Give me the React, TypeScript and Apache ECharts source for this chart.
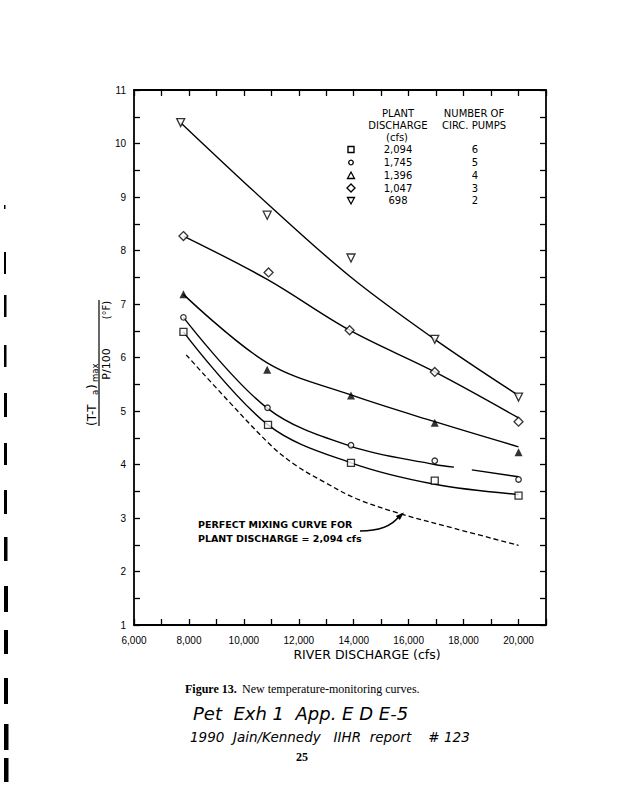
import React, { useEffect, useRef } from "react";
import * as echarts from "echarts";

// ---- data ----
// scatter points: [river discharge (cfs), (T-Ta)max / (P/100) (°F)]
const pumps6Points = [[7800, 6.48], [10880, 4.74], [13900, 4.03], [16950, 3.7], [20000, 3.42]];
const pumps5Points = [[7800, 6.75], [10860, 5.06], [13900, 4.36], [16950, 4.07], [20000, 3.72]];
const pumps4Points = [[7800, 7.18], [10850, 5.77], [13900, 5.29], [16950, 4.78], [20000, 4.23]];
const pumps3Points = [[7800, 8.27], [10900, 7.59], [13850, 6.51], [16950, 5.73], [20000, 4.8]];
const pumps2Points = [[7700, 10.39], [10850, 8.66], [13900, 7.86], [16950, 6.34], [20000, 5.26]];

// fitted curves
const fit6 = [[7800, 6.48], [10880, 4.74], [13900, 4.03], [16950, 3.63], [20000, 3.44]];
const fit5a = [[7800, 6.75], [10860, 5.05], [13900, 4.34], [16950, 4.0], [17650, 3.95]];
const fit5b = [[18300, 3.9], [20000, 3.77]];
const fit4 = [[7800, 7.18], [10850, 5.9], [13900, 5.3], [16950, 4.8], [20000, 4.33]];
const fit3 = [[7800, 8.27], [10850, 7.46], [13850, 6.51], [16950, 5.73], [20000, 4.87]];
const fit2 = [[7700, 10.39], [10850, 8.88], [13900, 7.5], [16950, 6.34], [20000, 5.29]];

// perfect mixing curve for plant discharge = 2,094 cfs
const mixingCurve = [
  [7900, 6.05], [9430, 5.19], [11000, 4.35], [11900, 3.98], [12900, 3.68],
  [14100, 3.36], [15700, 3.08], [17700, 2.8], [20000, 2.49],
];

const legendDischarge = ["2,094", "1,745", "1,396", "1,047", "698"];
const legendPumps = ["6", "5", "4", "3", "2"];

const X_MIN = 6000, X_MAX = 21000, X_STEP = 1000;
const Y_MIN = 1, Y_MAX = 11, Y_STEP = 0.5;

const LETTER = "DejaVu Sans";

export default function App() {
  const ref = useRef<HTMLDivElement>(null);
  useEffect(() => {
    if (!ref.current) return;
    const chart = echarts.init(ref.current, null, { renderer: "svg" });

    const axisLine = { show: true, onZero: false, lineStyle: { color: "#000", width: 1.8 } };
    const axisTick = { show: true, inside: true, length: 6, lineStyle: { color: "#000", width: 1.3 } };

    const openSym = { color: "#fff", borderColor: "#000", borderWidth: 1.3 };
    const lineStyle = { color: "#000", width: 1.4 };

    const fitSeries = (data: number[][]) => ({
      type: "line",
      data,
      smooth: 0.35,
      showSymbol: false,
      symbol: "none",
      lineStyle,
      z: 2,
      silent: true,
    });
    const pointSeries = (data: number[][], symbol: string, size: number, style: any, rotate = 0) => ({
      type: "scatter",
      data,
      symbol,
      symbolSize: size,
      symbolRotate: rotate,
      itemStyle: style,
      z: 5,
    });

    const txt = (x: number, y: number, text: string, font: string, align = "center", valign = "middle") => ({
      type: "text", x, y,
      style: { text, font, fill: "#000", textAlign: align, textVerticalAlign: valign },
    });

    // legend table graphics
    const rowY = [149.5, 162.5, 175.5, 188, 200.5];
    const symX = 351;
    const lf = `10px '${LETTER}'`;
    const legendGraphics: any[] = [
      txt(398, 113, "PLANT", lf),
      txt(398, 125, "DISCHARGE", lf),
      txt(397, 137, "(cfs)", lf),
      txt(474, 113, "NUMBER OF", lf),
      txt(474, 125, "CIRC. PUMPS", lf),
      { type: "rect", shape: { x: symX - 3, y: rowY[0] - 3, width: 6, height: 6 }, style: { fill: "#fff", stroke: "#000", lineWidth: 1.4 } },
      { type: "circle", shape: { cx: symX, cy: rowY[1], r: 2.3 }, style: { fill: "#fff", stroke: "#000", lineWidth: 1.3 } },
      { type: "polygon", shape: { points: [[symX, rowY[2] - 3.5], [symX - 3.5, rowY[2] + 3], [symX + 3.5, rowY[2] + 3]] }, style: { fill: "#fff", stroke: "#000", lineWidth: 1.3 } },
      { type: "polygon", shape: { points: [[symX, rowY[3] - 4], [symX + 4, rowY[3]], [symX, rowY[3] + 4], [symX - 4, rowY[3]]] }, style: { fill: "#fff", stroke: "#000", lineWidth: 1.3 } },
      { type: "polygon", shape: { points: [[symX - 3.5, rowY[4] - 3], [symX + 3.5, rowY[4] - 3], [symX, rowY[4] + 3.5]] }, style: { fill: "#fff", stroke: "#000", lineWidth: 1.3 } },
    ];
    legendDischarge.forEach((t, i) => {
      legendGraphics.push(txt(398, rowY[i], t, lf));
      legendGraphics.push(txt(475, rowY[i], legendPumps[i], lf));
    });

    // scan marks on the left margin
    const marks = [[205, 4, 1.5], [252, 22, 2], [295, 22, 2.5], [345, 22, 2.5], [393, 24, 3], [443, 22, 3], [490, 24, 3], [537, 24, 3.5], [586, 26, 4], [630, 24, 4], [678, 26, 4], [724, 26, 4.5], [758, 24, 4.5]];
    const markGraphics = marks.map(([y, h, w]) => ({ type: "rect", shape: { x: 4, y, width: w, height: h }, style: { fill: "#000" } }));

    const yLabel = {
      type: "group",
      x: 99,
      y: 362,
      rotation: Math.PI / 2,
      children: [
        { type: "line", shape: { x1: -64, y1: 0, x2: 62, y2: 0 }, style: { stroke: "#000", lineWidth: 1.2 } },
        txt(-64, -1.5, "(T-T", `12px '${LETTER}'`, "left", "bottom"),
        txt(-33, 0, "a", `8.5px '${LETTER}'`, "left", "bottom"),
        txt(-27, -1.5, ")", `12px '${LETTER}'`, "left", "bottom"),
        txt(-20, 0, "max", `8.5px '${LETTER}'`, "left", "bottom"),
        txt(-2, 2, "P/100", `11px '${LETTER}'`, "center", "top"),
        txt(52, 2, "(°F)", `10px '${LETTER}'`, "center", "top"),
      ],
    };

    const af = `bold 9.5px '${LETTER}'`;
    const annotation: any[] = [
      txt(198, 524, "PERFECT MIXING CURVE FOR", af, "left"),
      txt(198, 538, "PLANT DISCHARGE = 2,094 cfs", af, "left"),
      { type: "bezierCurve", shape: { x1: 360, y1: 531, x2: 399, y2: 516.5, cpx1: 388, cpy1: 531 }, style: { stroke: "#000", lineWidth: 1.5, fill: null } },
      { type: "polygon", shape: { points: [[404, 512.5], [399.8, 520], [395.8, 516]] }, style: { fill: "#000" } },
    ];

    const pageText: any[] = [
      txt(185, 689, "Figure 13.", "bold 12px 'Liberation Serif'", "left"),
      txt(242, 689, "New temperature-monitoring curves.", "12px 'Liberation Serif'", "left"),
      txt(193, 713, "Pet  Exh 1  App. E D E-5", "italic 18px 'DejaVu Sans'", "left"),
      txt(190, 737, "1990  Jain/Kennedy   IIHR  report    # 123", "italic 13.5px 'DejaVu Sans'", "left"),
      txt(302, 757, "25", "bold 12px 'Liberation Serif'"),
      txt(367, 654, "RIVER DISCHARGE (cfs)", `12.5px '${LETTER}'`),
    ];

    const option: any = {
      animation: false,
      backgroundColor: "#fff",
      grid: { left: 134, right: 72, top: 90, bottom: 175, containLabel: false },
      xAxis: [
        {
          type: "value", min: X_MIN, max: X_MAX, interval: X_STEP,
          axisLine, axisTick, splitLine: { show: false },
          axisLabel: {
            color: "#000", fontFamily: "Liberation Sans", fontSize: 10, margin: 10,
            formatter: (v: number) => (v % 2000 === 0 && v <= 20000 ? v.toLocaleString("en-US") : ""),
          },
        },
        {
          type: "value", position: "top", min: X_MIN, max: X_MAX, interval: X_STEP,
          axisLine, axisTick, splitLine: { show: false }, axisLabel: { show: false },
        },
      ],
      yAxis: [
        {
          type: "value", min: Y_MIN, max: Y_MAX, interval: Y_STEP,
          axisLine, axisTick, splitLine: { show: false },
          axisLabel: {
            color: "#000", fontFamily: "Liberation Sans", fontSize: 10, margin: 8,
            formatter: (v: number) => (Number.isInteger(v) ? String(v) : ""),
          },
        },
        {
          type: "value", position: "right", min: Y_MIN, max: Y_MAX, interval: Y_STEP,
          axisLine, axisTick, splitLine: { show: false }, axisLabel: { show: false },
        },
      ],
      series: [
        fitSeries(fit6), fitSeries(fit5a), fitSeries(fit5b), fitSeries(fit4), fitSeries(fit3), fitSeries(fit2),
        {
          type: "line", data: mixingCurve, smooth: 0.35, showSymbol: false, symbol: "none",
          lineStyle: { color: "#000", width: 1.3, type: [5, 3] }, z: 2, silent: true,
        },
        pointSeries(pumps6Points, "rect", 7, openSym),
        pointSeries(pumps5Points, "circle", 5.5, openSym),
        pointSeries(pumps4Points, "triangle", 8, { color: "#000" }),
        pointSeries(pumps3Points, "diamond", 9, openSym),
        pointSeries(pumps2Points, "triangle", 8, openSym, 180),
      ],
      graphic: [...legendGraphics, ...markGraphics, yLabel, ...annotation, ...pageText],
    };

    chart.setOption(option);
    return () => chart.dispose();
  }, []);

  return (
    <div
      ref={ref}
      style={{ position: "absolute", left: 0, top: 0, width: 618, height: 800, background: "#fff" }}
    />
  );
}
